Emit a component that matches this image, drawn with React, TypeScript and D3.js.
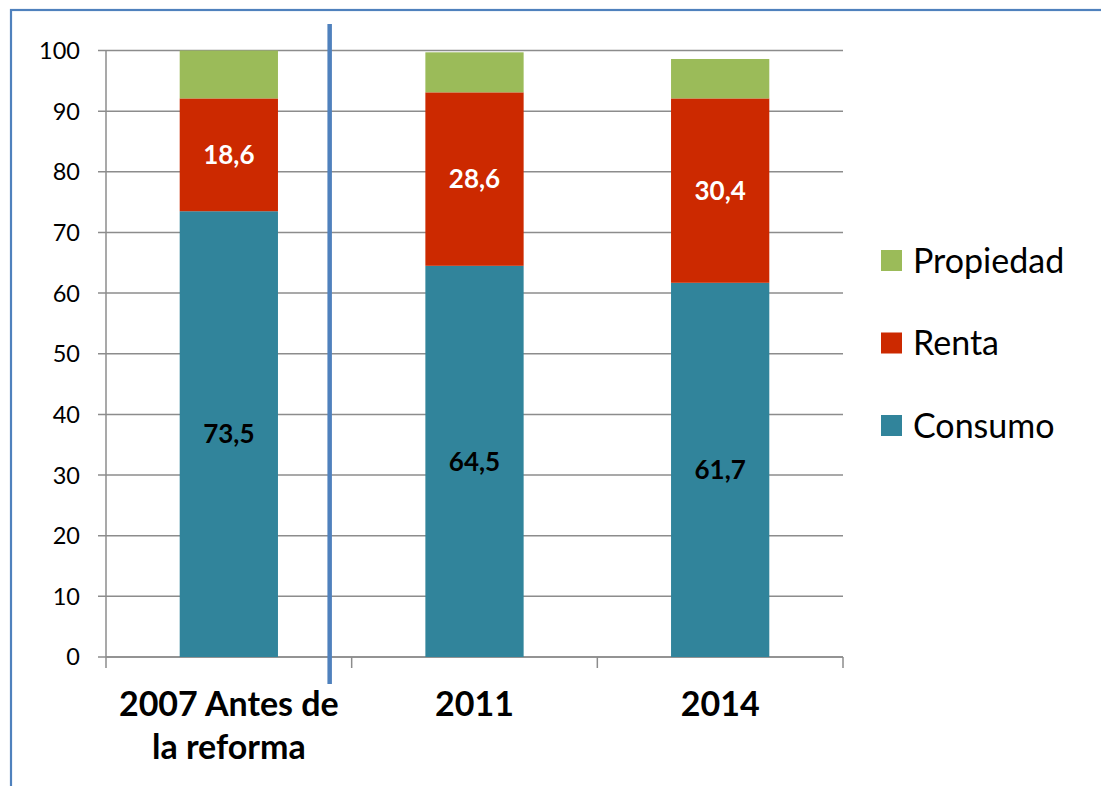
import * as d3 from "d3";
import React, { useEffect, useRef } from "react";

// chart values
const categories = ["2007 Antes de la reforma", "2011", "2014"];
const categoryLines = [["2007 Antes de", "la reforma"], ["2011"], ["2014"]];
const consumo = [73.5, 64.5, 61.7];
const renta = [18.6, 28.6, 30.4];
const propiedad = [7.9, 6.6, 6.5];
const seriesNames = ["Consumo", "Renta", "Propiedad"];
const yTicks = [0, 10, 20, 30, 40, 50, 60, 70, 80, 90, 100];

const colors: Record<string, string> = {
  Consumo: "#31849B",
  Renta: "#CC2900",
  Propiedad: "#9BBB59",
};
const labelColor: Record<string, string> = {
  Consumo: "#000000",
  Renta: "#FFFFFF",
};

export default function App() {
  const svgRef = useRef<SVGSVGElement>(null);

  useEffect(() => {
    const W = 1101;
    const H = 786;
    const svg = d3.select(svgRef.current).attr("width", W).attr("height", H);
    svg.selectAll("*").remove();

    const font = "Lato, 'Open Sans', sans-serif";
    const margin = { top: 50.5, left: 106, right: 258, bottom: 129 };
    const plotW = W - margin.left - margin.right;
    const plotH = H - margin.top - margin.bottom;

    // chart border
    svg.append("rect")
      .attr("x", 11).attr("y", 10)
      .attr("width", W + 20).attr("height", H + 20)
      .attr("fill", "white")
      .attr("stroke", "#4F81BD").attr("stroke-width", 2.2);

    const x = d3.scaleBand().domain(categories).range([0, plotW]).paddingInner(0.6).paddingOuter(0.3);
    const y = d3.scaleLinear().domain([0, 100]).range([plotH, 0]);

    const g = svg.append("g").attr("transform", `translate(${margin.left},${margin.top})`);

    // grid lines
    g.selectAll(".grid")
      .data(yTicks)
      .enter()
      .append("line")
      .attr("x1", -8)
      .attr("x2", plotW)
      .attr("y1", (d) => y(d))
      .attr("y2", (d) => y(d))
      .attr("stroke", "#8C8C8C")
      .attr("stroke-width", 1.5);

    // y tick labels
    g.selectAll(".ylab")
      .data(yTicks)
      .enter()
      .append("text")
      .attr("x", -26)
      .attr("y", (d) => y(d))
      .attr("dy", "0.36em")
      .attr("text-anchor", "end")
      .attr("font-family", font)
      .attr("font-size", 23.5)
      .attr("fill", "#000")
      .text((d) => d);

    // y axis line
    g.append("line")
      .attr("x1", 0).attr("x2", 0)
      .attr("y1", 0).attr("y2", plotH)
      .attr("stroke", "#8C8C8C").attr("stroke-width", 1.5);

    // x axis line + ticks
    g.append("line")
      .attr("x1", 0).attr("x2", plotW)
      .attr("y1", plotH).attr("y2", plotH)
      .attr("stroke", "#8C8C8C").attr("stroke-width", 1.5);
    const step = plotW / categories.length;
    g.selectAll(".xtick")
      .data(d3.range(categories.length + 1))
      .enter()
      .append("line")
      .attr("x1", (i) => i * step)
      .attr("x2", (i) => i * step)
      .attr("y1", plotH)
      .attr("y2", plotH + 11)
      .attr("stroke", "#8C8C8C")
      .attr("stroke-width", 1.5);

    // stacked bars
    const rows = categories.map((c, i) => ({
      cat: c,
      Consumo: consumo[i],
      Renta: renta[i],
      Propiedad: propiedad[i],
    }));
    const stacked = d3.stack<any>().keys(seriesNames)(rows);

    stacked.forEach((layer) => {
      const key = layer.key;
      g.selectAll(`.bar-${key}`)
        .data(layer)
        .enter()
        .append("rect")
        .attr("x", (d: any) => x(d.data.cat)!)
        .attr("width", x.bandwidth())
        .attr("y", (d) => y(d[1]))
        .attr("height", (d) => y(d[0]) - y(d[1]))
        .attr("fill", colors[key]);

      if (labelColor[key]) {
        g.selectAll(`.lab-${key}`)
          .data(layer)
          .enter()
          .append("text")
          .attr("x", (d: any) => x(d.data.cat)! + x.bandwidth() / 2)
          .attr("y", (d) => y((d[0] + d[1]) / 2))
          .attr("dy", "0.36em")
          .attr("text-anchor", "middle")
          .attr("font-family", font)
          .attr("font-weight", "bold")
          .attr("font-size", 26)
          .attr("fill", labelColor[key])
          .text((d: any) => String(d.data[key]).replace(".", ","));
      }
    });

    // category labels
    categories.forEach((c, i) => {
      const t = g.append("text")
        .attr("x", x(c)! + x.bandwidth() / 2)
        .attr("y", plotH + 59)
        .attr("text-anchor", "middle")
        .attr("font-family", font)
        .attr("font-weight", "bold")
        .attr("font-size", 34)
        .attr("fill", "#000");
      categoryLines[i].forEach((line, j) => {
        t.append("tspan")
          .attr("x", x(c)! + x.bandwidth() / 2)
          .attr("dy", j === 0 ? 0 : 43)
          .text(line);
      });
    });

    // separator line
    svg.append("line")
      .attr("x1", margin.left + step - 22)
      .attr("x2", margin.left + step - 22)
      .attr("y1", 24)
      .attr("y2", 684)
      .attr("stroke", "#4F81BD")
      .attr("stroke-width", 4.5);

    // legend
    const legend = svg.append("g").attr("transform", "translate(881,250)");
    const legendOrder = ["Propiedad", "Renta", "Consumo"];
    legendOrder.forEach((k, i) => {
      legend.append("rect")
        .attr("x", 0).attr("y", i * 82.5)
        .attr("width", 21).attr("height", 21)
        .attr("fill", colors[k]);
      legend.append("text")
        .attr("x", 32).attr("y", i * 82.5 + 10.5)
        .attr("dy", "0.36em")
        .attr("font-family", font)
        .attr("font-size", 34)
        .attr("fill", "#000")
        .text(k);
    });
  }, []);

  return (
    <div style={{ position: "absolute", left: 0, top: 0 }}>
      <svg ref={svgRef} style={{ display: "block" }}></svg>
    </div>
  );
}
